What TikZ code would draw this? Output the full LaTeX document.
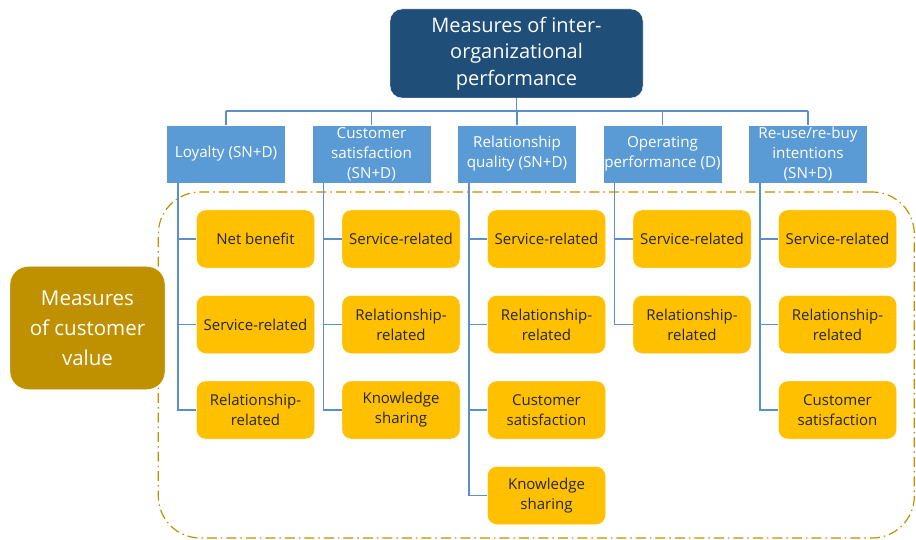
\documentclass[tikz,border=0pt]{standalone}
\usepackage{fontspec}
\setmainfont{Open Sans}
\usepackage{xcolor}
\usetikzlibrary{positioning,calc}

\definecolor{topblue}{HTML}{1F4E79}
\definecolor{catblue}{HTML}{5B9BD5}
\definecolor{lineblue}{HTML}{5B8FCB}
\definecolor{itemyellow}{HTML}{FFC000}
\definecolor{valuegold}{HTML}{BF9000}

\begin{document}
\begin{tikzpicture}[x=1pt, y=-1pt,
    topbox/.style={draw=white, fill=topblue, text=white, rounded corners=12pt, minimum width=253pt, minimum height=89pt, inner sep=0pt, align=center, font=\fontsize{20}{26.7}\selectfont},
    catbox/.style={draw=white, fill=catblue, text=white, minimum width=119pt, minimum height=58pt, inner sep=0pt, align=center, font=\fontsize{15.2}{20}\selectfont},
    itembox/.style={draw=white, fill=itemyellow, text=black!85, rounded corners=9pt, minimum width=118pt, minimum height=58pt, inner sep=0pt, align=center, font=\fontsize{15}{20}\selectfont},
    valuebox/.style={draw=white, fill=valuegold, text=white, rounded corners=18pt, minimum width=155pt, minimum height=123pt, inner sep=0pt, align=center, font=\fontsize{20.5}{30}\selectfont},
    frame/.style={draw=valuegold, line width=1.2pt, rounded corners=42pt, dash pattern=on 10pt off 4pt on 1.5pt off 4pt, minimum width=756pt, minimum height=346pt},
    conn/.style={draw=lineblue, line width=1.5pt}]
    \useasboundingbox (0,0) rectangle (916,540);

    % dash-dot area round the customer value measures
    \node [frame] (valuearea) at (536.3,365) {};

    % top
    \node [topbox] (perf) at (516.5,53.5) {Measures of inter-\\organizational\\performance};
    \coordinate (bus) at (516.5,111);

    % categories
    \node [catbox] (loy) at (226,154) {Loyalty (SN+D)};
    \node [catbox] (sat) at (371.5,154) {Customer\\satisfaction\\(SN+D)};
    \node [catbox] (rel) at (517,154) {Relationship\\quality (SN+D)};
    \node [catbox] (op) at (662.5,154) {Operating\\performance (D)};
    \node [catbox] (reuse) at (808,154) {Re-use/re-buy\\intentions\\(SN+D)};

    % customer value
    \node [valuebox] (value) at (87.5,328) {Measures\\of customer\\value};

    % loyalty
    \node [itembox] (loy1) at (255.5,239) {Net benefit};
    \node [itembox] (loy2) at (255.5,324.5) {Service-related};
    \node [itembox] (loy3) at (255.5,410) {Relationship-\\related};

    % customer satisfaction
    \node [itembox] (sat1) at (401,239) {Service-related};
    \node [itembox] (sat2) at (401,324.5) {Relationship-\\related};
    \node [itembox] (sat3) at (401,410) {Knowledge\\sharing};

    % relationship quality
    \node [itembox] (rel1) at (546.5,239) {Service-related};
    \node [itembox] (rel2) at (546.5,324.5) {Relationship-\\related};
    \node [itembox] (rel3) at (546.5,410) {Customer\\satisfaction};
    \node [itembox] (rel4) at (546.5,495.5) {Knowledge\\sharing};

    % operating performance
    \node [itembox] (op1) at (692,239) {Service-related};
    \node [itembox] (op2) at (692,324.5) {Relationship-\\related};

    % re-use/re-buy
    \node [itembox] (reuse1) at (837.5,239) {Service-related};
    \node [itembox] (reuse2) at (837.5,324.5) {Relationship-\\related};
    \node [itembox] (reuse3) at (837.5,410) {Customer\\satisfaction};

    % bus
    \draw [conn] (perf.south) -- (bus);
    \draw [conn] (bus -| loy) -- (bus -| reuse);
    \draw [conn] (bus -| loy) -- (loy.north);
    \draw [conn] (bus -| sat) -- (sat.north);
    \draw [conn] (bus -| rel) -- (rel.north);
    \draw [conn] (bus -| op) -- (op.north);
    \draw [conn] (bus -| reuse) -- (reuse.north);

    % branches
    \draw [conn] ([xshift=11.5pt]loy.south west) |- (loy1.west);
    \draw [conn] ([xshift=11.5pt]loy.south west) |- (loy2.west);
    \draw [conn] ([xshift=11.5pt]loy.south west) |- (loy3.west);
    \draw [conn] ([xshift=11.5pt]sat.south west) |- (sat1.west);
    \draw [conn] ([xshift=11.5pt]sat.south west) |- (sat2.west);
    \draw [conn] ([xshift=11.5pt]sat.south west) |- (sat3.west);
    \draw [conn] ([xshift=11.5pt]rel.south west) |- (rel1.west);
    \draw [conn] ([xshift=11.5pt]rel.south west) |- (rel2.west);
    \draw [conn] ([xshift=11.5pt]rel.south west) |- (rel3.west);
    \draw [conn] ([xshift=11.5pt]rel.south west) |- (rel4.west);
    \draw [conn] ([xshift=11.5pt]op.south west) |- (op1.west);
    \draw [conn] ([xshift=11.5pt]op.south west) |- (op2.west);
    \draw [conn] ([xshift=11.5pt]reuse.south west) |- (reuse1.west);
    \draw [conn] ([xshift=11.5pt]reuse.south west) |- (reuse2.west);
    \draw [conn] ([xshift=11.5pt]reuse.south west) |- (reuse3.west);
\end{tikzpicture}
\end{document}
